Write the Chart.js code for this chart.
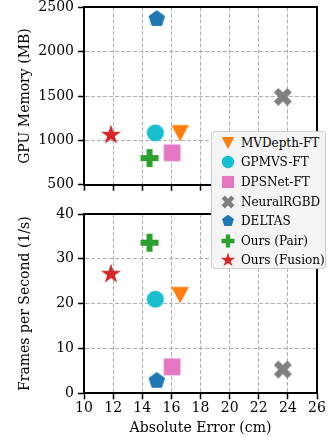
<!DOCTYPE html>
<html><head><meta charset="utf-8">
<script src="https://cdn.jsdelivr.net/npm/chart.js@4"></script>
<style>
html,body{margin:0;padding:0;background:#fff;}
#wrap{position:relative;width:331px;height:437px;overflow:hidden;background:#fff;}
#c1{position:absolute;left:0;top:-5px;}
#c2{position:absolute;left:0;top:200px;}
#legend{position:absolute;left:211px;top:131px;width:113px;height:136px;border:1px solid #cccccc;border-radius:3px;background:#f4f4f4;font-family:'DejaVu Serif';font-size:12px;color:#000;}
.item{position:absolute;left:0;height:20px;width:113px;}
.item canvas{position:absolute;left:3px;top:-3px;}
.item span{position:absolute;left:29px;top:0;line-height:20px;white-space:nowrap;}
</style></head>
<body>
<div id="wrap">
<canvas id="c1" width="331" height="205"></canvas>
<canvas id="c2" width="331" height="237"></canvas>
<div id="legend"></div>
</div>
<script>
const methods = ['MVDepth-FT','GPMVS-FT','DPSNet-FT','NeuralRGBD','DELTAS','Ours (Pair)','Ours (Fusion)'];
const absError = [16.6, 14.9, 16.05, 23.65, 15.0, 14.5, 11.85];
const gpuMemory = [1080, 1085, 860, 1490, 2370, 800, 1060];
const fps = [21.9, 21.0, 5.9, 5.3, 2.8, 33.6, 26.6];
const colors = ['#ff7f0e','#17becf','#e377c2','#7f7f7f','#1f77b4','#2ca02c','#d62728'];
const shapes = ['triDown','circle','square','xFilled','pentagon','plusFilled','star'];
const xTicks = [10,12,14,16,18,20,22,24,26];
const memTicks = [500,1000,1500,2000,2500];
const fpsTicks = [0,10,20,30,40];

Chart.defaults.font.family = 'DejaVu Serif';
Chart.defaults.color = '#000';

function poly(ctx, pts){ctx.beginPath();pts.forEach((p,i)=>i?ctx.lineTo(p[0],p[1]):ctx.moveTo(p[0],p[1]));ctx.closePath();ctx.fill();}
function drawShape(ctx, shape, s){
  if(shape==='triDown'){poly(ctx,[[-8.8*s,-8.3*s],[8.8*s,-8.3*s],[0,8.3*s]]);}
  else if(shape==='circle'){ctx.beginPath();ctx.arc(0,0,8.6*s,0,Math.PI*2);ctx.fill();}
  else if(shape==='square'){poly(ctx,[[-8.4*s,-8.4*s],[8.4*s,-8.4*s],[8.4*s,8.4*s],[-8.4*s,8.4*s]]);}
  else if(shape==='xFilled'){const k=18*s/4;poly(ctx,[[-1,-2],[0,-1],[1,-2],[2,-1],[1,0],[2,1],[1,2],[0,1],[-1,2],[-2,1],[-1,0],[-2,-1]].map(p=>[p[0]*k,p[1]*k]));}
  else if(shape==='plusFilled'){const k=18*s;const a=1/6,b=1/2;poly(ctx,[[-a,-b],[a,-b],[a,-a],[b,-a],[b,a],[a,a],[a,b],[-a,b],[-a,a],[-b,a],[-b,-a],[-a,-a]].map(p=>[p[0]*k,p[1]*k]));}
  else if(shape==='pentagon'){const R=8.7*s;const pts=[];for(let i=0;i<5;i++){const t=-Math.PI/2+i*2*Math.PI/5;pts.push([R*Math.cos(t),R*Math.sin(t)]);}poly(ctx,pts);}
  else if(shape==='star'){const R=10.5*s,r=R*0.381966;const pts=[];for(let i=0;i<10;i++){const t=-Math.PI/2+i*Math.PI/5;const rr=i%2?r:R;pts.push([rr*Math.cos(t),rr*Math.sin(t)]);}poly(ctx,pts);}
}
function makeMarker(shape,color,s){
  const c=document.createElement('canvas');c.width=26;c.height=26;
  const ctx=c.getContext('2d');ctx.translate(13,13);ctx.fillStyle=color;drawShape(ctx,shape,s);
  return c;
}
const markers = shapes.map((sh,i)=>makeMarker(sh,colors[i],1));

const framePlugin = {id:'frame', afterDraw(chart){
  const {ctx, chartArea:{left,right,top,bottom}} = chart;
  ctx.save();ctx.strokeStyle='#000';ctx.lineWidth=2;ctx.beginPath();
  const t=Math.round(top), r=Math.round(right), b=Math.round(bottom), l=Math.round(left);
  ctx.moveTo(l-1,t);ctx.lineTo(r,t);ctx.moveTo(r,t-1);ctx.lineTo(r,b+1);ctx.stroke();ctx.restore();
}};

function makeChart(id, yVals, yTicks, yTitle, bottomChart){
  const xH = bottomChart ? 43.7 : 15.3;
  return new Chart(document.getElementById(id), {
    type:'scatter',
    data:{datasets: methods.map((m,i)=>({label:m, data:[{x:absError[i], y:yVals[i]}], pointStyle:markers[i], pointRadius:9, pointHoverRadius:9}))},
    options:{
      responsive:false, animation:false, events:[],
      layout:{padding:{left:0,right:14,top:bottomChart?14:7.5,bottom:0}},
      plugins:{legend:{display:false},tooltip:{enabled:false}},
      scales:{
        x:{type:'linear',min:xTicks[0],max:xTicks[xTicks.length-1],
          afterBuildTicks:s=>{s.ticks=xTicks.map(v=>({value:v}));},
          afterFit:s=>{s.height=xH;},
          grid:{color:'#b0b0b0',lineWidth:1,tickColor:'#000',tickWidth:1.5,tickLength:6},
          border:{display:true,color:'#000',width:2,dash:[4,2]},
          ticks:{display:bottomChart,font:{size:14},padding:1,maxRotation:0,autoSkip:false,callback:v=>String(v)},
          title:{display:bottomChart,text:'Absolute Error (cm)',font:{size:14},padding:{top:0,bottom:0.6}}
        },
        y:{type:'linear',min:yTicks[0],max:yTicks[yTicks.length-1],
          afterBuildTicks:s=>{s.ticks=yTicks.map(v=>({value:v}));},
          afterFit:s=>{s.width=84;},
          grid:{color:'#b0b0b0',lineWidth:1,tickColor:'#000',tickWidth:1.5,tickLength:6},
          border:{display:true,color:'#000',width:2,dash:[4,2]},
          ticks:{font:{size:14},padding:4,autoSkip:false,callback:v=>String(v)},
          title:{display:true,text:yTitle,font:{size:14},padding:{top:17,bottom:0}}
        }
      }
    },
    plugins:[framePlugin]
  });
}
makeChart('c1', gpuMemory, memTicks, 'GPU Memory (MB)', false);
makeChart('c2', fps, fpsTicks, 'Frames per Second (1/s)', true);

const leg = document.getElementById('legend');
methods.forEach((m,i)=>{
  const d=document.createElement('div');d.className='item';d.style.top=(0.7+19.6*i)+'px';
  const c=makeMarker(shapes[i],colors[i],0.72);d.appendChild(c);
  const sp=document.createElement('span');sp.textContent=m;d.appendChild(sp);
  leg.appendChild(d);
});
</script>
</body></html>
